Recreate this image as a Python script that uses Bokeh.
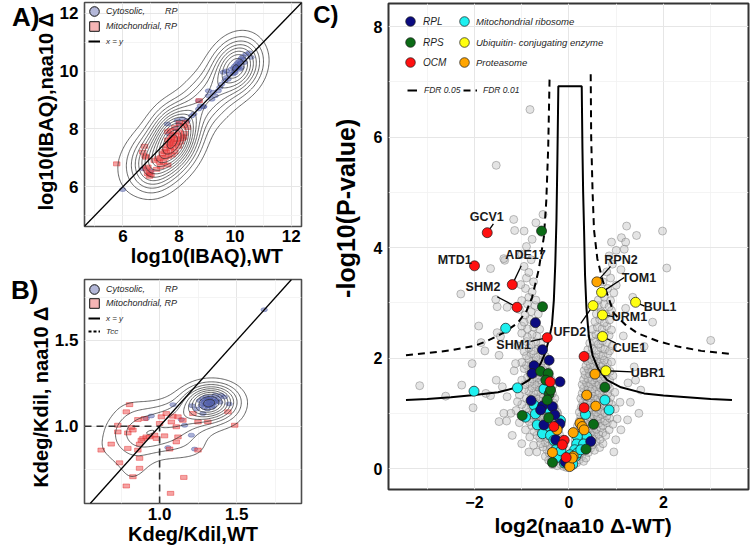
import numpy as np
from bokeh.plotting import figure
from bokeh.models import (Range1d, FixedTicker, Legend, LegendItem, LinearAxis,
                          Slope, PrintfTickFormatter)
from bokeh.layouts import row, column
from bokeh.embed import file_html
from bokeh.resources import INLINE
from bokeh.core.properties import value

FONT = "Liberation Sans"

# ---------------- Panel A : log10(IBAQ) ----------------
a_cyto = [(5.99,5.90),(6.95,6.45),(7.00,6.55),(6.72,6.62),(7.59,8.17),(7.64,7.83),(7.88,8.00),
          (7.94,8.29),(8.00,8.17),(8.12,8.35),(8.29,8.29),(8.45,8.45),(8.53,8.52),(8.70,8.69),
          (8.76,8.80),(8.87,8.76),(8.70,8.98),(8.88,8.78),(9.05,9.15),(9.05,9.32),(9.17,9.03),
          (9.22,9.27),(9.29,9.15),(9.40,9.32),(9.46,9.44),(9.52,9.55),(9.58,9.96),(9.64,9.67),
          (9.69,9.78),(9.69,10.01),(9.75,9.72),(9.81,9.90),(9.87,10.07),(9.93,9.90),(9.99,10.01),
          (9.99,10.18),(10.05,10.24),(10.10,10.13),(10.10,10.30),(10.16,10.07),(10.16,10.36),
          (10.22,10.13),(10.22,10.44),(10.28,10.51),(10.33,10.30),(10.39,10.59),(10.51,10.64),
          (10.57,10.48),(10.05,10.10),(10.12,10.20),(10.20,10.28),(9.95,10.12),(10.30,10.40),(10.00,9.95)]
a_mito = [(5.78,6.79),(6.79,7.06),(6.83,6.62),(6.88,6.45),(6.95,6.36),(6.71,7.20),(6.77,7.40),
          (6.83,7.02),(6.89,6.68),(6.95,6.51),(7.00,6.41),(7.12,6.91),(7.24,6.97),(7.30,6.85),
          (7.36,7.02),(7.41,7.14),(7.47,7.22),(7.53,7.31),(7.59,7.42),(7.65,7.50),(7.70,7.60),
          (7.75,7.45),(7.80,7.55),(7.85,7.65),(7.72,7.70),(7.68,7.38),(7.82,7.35),(7.90,7.50),
          (7.60,7.62),(7.78,7.78),(7.88,7.80),(7.95,7.62),(7.55,7.20),(7.70,7.25),(7.85,7.20),
          (7.98,7.40),(8.05,7.55),(7.62,7.05),(7.50,7.00),(7.75,7.10),(7.45,6.85),(7.60,6.75),
          (7.35,6.70),(7.20,6.60),(7.70,7.95),(7.85,8.05),(8.00,7.90),(8.10,7.75),(8.20,7.85),
          (8.30,8.05),(7.60,7.90),(8.02,8.20),(8.17,8.11),(8.23,8.23),(8.17,7.71),(8.12,7.66),(8.72,8.98)]
a_ticks = [6, 8, 10, 12]
a_minor = [5, 7, 9, 11]

# ---------------- Panel B : Kdeg/Kdil ----------------
b_cyto = [(1.28,1.13),(1.30,1.15),(1.31,1.12),(1.32,1.14),(1.33,1.15),(1.34,1.13),(1.35,1.16),
          (1.36,1.14),(1.29,1.14),(1.31,1.16),(1.33,1.13),(1.34,1.15),(1.32,1.12),(1.30,1.13),
          (1.37,1.15),(1.38,1.16),(1.35,1.12),(1.27,1.12),(1.33,1.17),(1.36,1.18),(1.29,1.11),
          (1.31,1.10),(1.34,1.11),(1.39,1.14),(1.26,1.15),(1.32,1.16),(1.35,1.14),(1.30,1.17),
          (1.28,1.16),(1.40,1.18),(0.946,1.060),(0.913,1.045),(1.087,1.126),(1.141,1.039),
          (1.162,1.006),(1.206,0.948),(1.054,0.876),(1.227,0.867),(1.281,1.074),(1.678,1.679),
          (1.24,1.10),(1.21,1.12),(1.42,1.17),(1.45,1.13)]
b_mito = [(0.805,1.126),(0.784,1.084),(0.859,1.039),(0.903,1.045),(0.729,1.006),(0.729,0.967),
          (0.794,0.961),(0.816,0.993),(0.827,0.978),(0.892,0.929),(0.881,0.919),(0.913,0.938),
          (0.935,0.938),(0.968,0.948),(0.979,0.929),(0.870,0.896),(0.859,0.861),(0.794,0.871),
          (0.686,0.896),(0.621,0.861),(0.740,0.787),(0.870,0.813),(0.870,0.755),(0.827,0.706),
          (0.784,0.652),(1.000,1.016),(1.011,1.055),(1.043,1.074),(1.076,1.025),(1.086,1.059),
          (1.119,1.055),(1.151,1.035),(1.108,0.997),(1.119,0.938),(1.108,0.909),(1.065,0.867),
          (1.249,0.861),(1.249,1.025),(1.313,1.025),(1.216,1.074),(1.443,1.084),(1.487,1.006),
          (1.157,0.702),(1.071,0.609),(1.032,0.944)]
b_tcc = 1.0
b_ticks = [1.0, 1.5]
b_minor = [0.75, 1.25, 1.75]

# ---------------- Panel C : volcano ----------------
c_grey = [
 (-0.05,0.02),(-0.12,0.04),(-0.18,0.08),(-0.25,0.05),(-0.08,0.11),(-0.32,0.12),(-0.15,0.16),(-0.22,0.19),
 (-0.38,0.20),(-0.28,0.23),(-0.10,0.21),(-0.43,0.15),(0.04,0.03),(0.10,0.06),(0.16,0.10),(0.08,0.14),
 (0.22,0.16),(0.13,0.20),(0.27,0.22),(0.19,0.24),(0.31,0.13),(0.02,0.09),(-0.02,0.15),(0.06,0.22),
 (-0.35,0.07),(0.36,0.19),(-0.50,0.22),
 (-0.14,0.27),(-0.24,0.29),(-0.33,0.31),(-0.42,0.28),(-0.19,0.34),(-0.29,0.37),(-0.38,0.36),(-0.47,0.34),
 (-0.55,0.39),(-0.12,0.40),(-0.22,0.42),(-0.31,0.45),(-0.41,0.43),(-0.50,0.47),(-0.60,0.45),(-0.17,0.48),
 (-0.36,0.49),(-0.26,0.50),(-0.68,0.30),(-0.75,0.42),
 (0.09,0.27),(0.17,0.30),(0.25,0.28),(0.33,0.32),(0.41,0.29),(0.12,0.35),(0.21,0.38),(0.29,0.36),
 (0.38,0.40),(0.46,0.37),(0.54,0.33),(0.15,0.43),(0.24,0.46),(0.33,0.44),(0.42,0.47),(0.50,0.43),
 (0.58,0.48),(0.20,0.50),(0.37,0.50),(0.65,0.38),(0.72,0.45),
 (-0.15,0.53),(-0.24,0.55),(-0.34,0.57),(-0.44,0.54),(-0.53,0.58),(-0.62,0.55),(-0.20,0.61),(-0.30,0.63),
 (-0.40,0.62),(-0.49,0.66),(-0.58,0.64),(-0.68,0.60),(-0.26,0.68),(-0.36,0.70),(-0.46,0.72),(-0.55,0.70),
 (-0.65,0.73),(-0.74,0.67),(-0.22,0.74),(-0.83,0.57),(-0.92,0.70),
 (0.13,0.52),(0.22,0.55),(0.31,0.54),(0.40,0.57),(0.49,0.55),(0.57,0.58),(0.66,0.53),(0.17,0.60),
 (0.27,0.63),(0.36,0.61),(0.45,0.64),(0.54,0.66),(0.63,0.62),(0.72,0.65),(0.20,0.68),(0.30,0.71),
 (0.39,0.69),(0.48,0.73),(0.58,0.71),(0.67,0.74),(0.78,0.60),(0.85,0.70),(0.24,0.74),
 (-0.20,0.77),(-0.30,0.79),(-0.40,0.78),(-0.50,0.80),(-0.60,0.77),(-0.70,0.81),(-0.79,0.78),(-0.25,0.85),
 (-0.35,0.87),(-0.45,0.84),(-0.55,0.88),(-0.65,0.86),(-0.75,0.89),(-0.84,0.85),(-0.29,0.93),(-0.39,0.95),
 (-0.49,0.92),(-0.59,0.96),(-0.69,0.94),(-0.80,0.97),(-0.93,0.92),(-1.05,0.83),(-0.24,0.99),
 (0.18,0.77),(0.27,0.80),(0.36,0.78),(0.45,0.81),(0.54,0.79),(0.63,0.82),(0.72,0.78),(0.81,0.83),
 (0.22,0.86),(0.31,0.88),(0.40,0.85),(0.49,0.89),(0.58,0.87),(0.67,0.90),(0.76,0.86),(0.86,0.91),
 (0.25,0.94),(0.34,0.97),(0.43,0.93),(0.52,0.96),(0.61,0.94),(0.70,0.98),(0.80,0.95),(0.93,0.80),(1.02,0.90),
 (-0.25,1.02),(-0.35,1.04),(-0.45,1.01),(-0.55,1.05),(-0.65,1.03),(-0.75,1.06),(-0.85,1.02),(-0.30,1.10),
 (-0.40,1.12),(-0.50,1.09),(-0.60,1.13),(-0.70,1.11),(-0.80,1.14),(-0.90,1.09),(-0.33,1.19),(-0.43,1.21),
 (-0.53,1.18),(-0.63,1.22),(-0.73,1.20),(-0.83,1.23),(-1.00,1.16),(-1.12,1.05),
 (0.22,1.02),(0.31,1.05),(0.40,1.03),(0.49,1.06),(0.58,1.02),(0.67,1.05),(0.76,1.01),(0.86,1.04),
 (0.26,1.11),(0.35,1.13),(0.44,1.10),(0.53,1.14),(0.62,1.12),(0.71,1.15),(0.80,1.11),(0.90,1.16),
 (0.29,1.20),(0.38,1.22),(0.47,1.19),(0.56,1.23),(0.65,1.21),(0.74,1.24),(0.84,1.20),(0.98,1.08),(1.08,1.20),
 (-0.30,1.27),(-0.40,1.29),(-0.50,1.26),(-0.60,1.30),(-0.70,1.28),(-0.80,1.31),(-0.90,1.27),(-0.35,1.36),
 (-0.45,1.38),(-0.55,1.35),(-0.65,1.39),(-0.75,1.37),(-0.85,1.40),(-0.38,1.45),(-0.48,1.47),(-0.58,1.44),
 (-0.68,1.48),(-0.78,1.46),(-0.95,1.43),(-1.05,1.33),
 (0.25,1.27),(0.34,1.30),(0.43,1.28),(0.52,1.31),(0.61,1.27),(0.70,1.30),(0.79,1.26),(0.88,1.29),
 (0.28,1.36),(0.37,1.38),(0.46,1.35),(0.55,1.39),(0.64,1.37),(0.73,1.40),(0.82,1.36),(0.31,1.45),
 (0.40,1.47),(0.49,1.44),(0.58,1.48),(0.67,1.46),(0.76,1.49),(0.86,1.45),(0.97,1.38),
 (-0.33,1.52),(-0.43,1.54),(-0.53,1.51),(-0.63,1.55),(-0.73,1.53),(-0.83,1.56),(-0.93,1.52),(-0.38,1.61),
 (-0.48,1.63),(-0.58,1.60),(-0.68,1.64),(-0.78,1.62),(-0.88,1.65),(-0.42,1.70),(-0.52,1.72),(-0.62,1.69),
 (-0.72,1.73),(-0.82,1.71),(-1.00,1.60),
 (0.28,1.52),(0.37,1.55),(0.46,1.53),(0.55,1.56),(0.64,1.52),(0.73,1.55),(0.82,1.51),(0.31,1.61),
 (0.40,1.63),(0.49,1.60),(0.58,1.64),(0.67,1.62),(0.76,1.65),(0.86,1.60),(0.34,1.70),(0.43,1.72),
 (0.52,1.69),(0.61,1.73),(0.70,1.71),(0.80,1.74),(0.93,1.68),
 (-0.45,1.77),(-0.55,1.79),(-0.65,1.76),(-0.75,1.80),(-0.85,1.78),(-0.95,1.81),(-0.50,1.86),(-0.60,1.88),
 (-0.70,1.85),(-0.80,1.89),(-0.90,1.87),(-0.55,1.95),(-0.65,1.97),(-0.75,1.94),(-0.85,1.98),(-1.00,1.92),
 (0.32,1.77),(0.41,1.80),(0.50,1.78),(0.59,1.81),(0.68,1.77),(0.77,1.80),(0.87,1.76),(0.36,1.86),
 (0.45,1.88),(0.54,1.85),(0.63,1.89),(0.72,1.87),(0.82,1.90),(0.39,1.95),(0.48,1.97),(0.57,1.94),
 (0.66,1.98),(0.75,1.96),(0.90,1.93),
 (-0.50,2.03),(-0.60,2.06),(-0.70,2.02),(-0.80,2.08),(-0.90,2.04),(-0.55,2.14),(-0.65,2.17),(-0.75,2.13),
 (-0.85,2.18),(-0.95,2.12),(-0.60,2.26),(-0.70,2.29),(-0.80,2.24),(-0.90,2.30),(-0.68,2.40),(-0.78,2.43),
 (-0.88,2.38),(-1.00,2.45),(-1.08,2.22),
 (0.36,2.03),(0.45,2.07),(0.54,2.02),(0.63,2.06),(0.72,2.04),(0.82,2.08),(0.40,2.15),(0.49,2.18),
 (0.58,2.14),(0.67,2.19),(0.76,2.16),(0.86,2.13),(0.44,2.27),(0.53,2.30),(0.62,2.25),(0.71,2.31),
 (0.80,2.28),(0.92,2.22),(0.48,2.40),(0.57,2.43),(0.66,2.38),(0.75,2.44),(0.85,2.41),
 (-0.62,2.52),(-0.75,2.56),(-0.88,2.53),(-1.00,2.58),(-0.70,2.66),(-0.83,2.70),(-0.95,2.65),(-0.65,2.80),
 (-0.80,2.84),(-0.93,2.78),(-1.05,2.88),(-0.72,2.95),(-0.88,2.98),
 (0.50,2.52),(0.60,2.56),(0.70,2.53),(0.80,2.58),(0.90,2.51),(0.55,2.66),(0.65,2.70),(0.75,2.64),
 (0.86,2.69),(0.58,2.80),(0.68,2.84),(0.78,2.79),(0.90,2.86),(0.62,2.95),(0.74,2.98),(0.85,2.93),
 (-0.70,3.05),(-0.85,3.10),(-1.00,3.04),(-0.78,3.20),(-0.92,3.26),(-0.75,3.38),(-0.90,3.45),(-1.02,3.33),
 (0.62,3.05),(0.75,3.10),(0.88,3.04),(0.68,3.20),(0.82,3.26),(0.95,3.18),(0.72,3.38),(0.88,3.45),(1.00,3.32),
 (-0.85,3.55),(-0.95,3.66),(-0.80,3.78),(-1.00,3.88),(-0.90,4.02),(-0.78,4.15),(-0.95,4.30),
 (0.80,3.56),(0.92,3.70),(0.85,3.85),(1.00,3.95),(0.90,4.10),
 (-1.54,5.49),(-0.825,6.50),(-1.17,4.51),(-1.15,4.31),(-1.36,3.77),(-1.38,3.80),(-1.66,3.62),(-2.29,3.16),
 (-1.52,2.93),(-1.31,2.92),(-1.91,2.58),(-1.52,2.46),(-1.45,2.39),(-2.05,1.90),(-1.55,3.06),(-1.86,2.28),
 (-1.78,2.13),(-1.48,2.05),(-3.16,1.50),(-2.27,1.51),(-2.61,1.31),(-1.76,1.36),(-1.66,1.32),(-1.54,1.60),
 (-2.03,1.10),(-1.48,0.85),(-1.32,0.86),(-1.16,1.77),(-1.13,1.90),(-1.23,1.00),(-1.41,1.48),(-1.31,1.30),
 (-1.38,1.00),(-1.09,1.21),(-1.20,0.60),(-1.00,0.45),(-0.85,0.30),(1.22,4.39),(1.98,4.30),(1.11,4.18),
 (1.20,4.10),(1.43,4.22),(1.17,3.97),(2.07,3.63),(3.00,2.32),(1.77,2.65),(1.59,2.21),(1.38,1.84),
 (1.41,1.60),(1.52,1.42),(1.48,1.00),(1.24,0.88),(0.99,0.52),(1.10,0.70),(1.30,1.20),(1.20,2.90),
 (1.35,3.10),(1.15,2.40),(1.25,1.55),(0.95,0.30),(1.10,3.60),(-0.55,4.60),(-0.70,4.45)]

c_rpl = [(-0.71,2.64),(-0.56,2.15),(-0.42,1.96),(-0.74,1.86),(-0.78,1.72),(-0.19,1.57),(-0.80,1.23),
         (-0.56,1.13),(-0.35,1.12),(-0.60,1.06),(-0.30,0.97),(-0.53,0.79),(-0.26,0.77),(-0.19,0.81),
         (-0.28,0.52),(-0.035,0.096),(0.46,0.49),(-0.08,0.12)]
c_rps = [(-0.58,4.30),(-0.56,2.93),(-0.60,1.76),(-0.44,1.72),(-0.49,1.60),(-0.42,1.35),(-0.39,1.42),
         (-0.46,1.24),(-0.99,0.96),(-0.43,0.92),(-0.35,0.11),(0.76,1.47),(0.52,0.80),(0.36,0.35)]
c_ocm = [(-0.40,1.57),(-0.32,0.76),(-0.10,0.51),(-0.14,0.43),(-0.06,0.20),(0.32,2.03),(0.32,1.10)]
c_mito = [(-1.34,2.54),(-2.01,1.40),(-1.09,1.46),(-0.53,1.44),(-0.74,1.15),(-0.71,0.99),(-0.46,1.09),
          (-0.92,0.93),(-0.18,0.87),(-0.46,0.77),(-0.67,0.79),(-0.56,0.63),(-0.39,0.60),(-0.32,0.51),
          (-0.21,0.43),(-0.28,0.34),(-0.14,0.25),(-0.23,0.205),(0.036,0.156),(0.14,0.22),(0.76,1.24),
          (0.35,0.98),(0.85,1.06),(0.375,0.58),(0.177,0.58),(0.163,0.445),(0.31,0.445),(0.12,0.34),
          (0.177,0.28),(0.25,0.34),(-0.10,0.10),(0.08,0.08),(-0.17,0.32),(0.02,0.25)]
c_ubiq = []
c_prot = [(0.55,1.71),(0.375,1.33),(0.566,1.13),(0.234,0.82),(0.28,0.76),(0.32,0.70),(0.09,0.65),
          (0.09,0.22),(-0.25,0.70),(-0.35,0.29),(0.015,0.035),(0.07,0.19)]

lab_name = ["GCV1", "MTD1", "ADE17", "SHM2", "SHM1", "UFD2", "RPN2", "TOM1", "BUL1", "URM1", "CUE1", "UBR1"]
lab_cat = ["OCM", "OCM", "OCM", "OCM", "OCM", "Ubiquitin", "Proteasome", "Ubiquitin", "Ubiquitin",
           "Ubiquitin", "Ubiquitin", "Ubiquitin"]
lab_x = [-1.73, -2.00, -1.20, -1.10, -0.46, 0.51, 0.59, 0.69, 1.41, 0.71, 0.71, 0.78]
lab_y = [4.27, 3.67, 3.33, 2.92, 2.37, 2.95, 3.38, 3.19, 3.01, 2.78, 2.39, 1.77]
lab_tx = [-1.74, -2.42, -0.92, -1.82, -1.17, 0.02, 1.10, 1.48, 1.93, 1.28, 1.28, 1.67]
lab_ty = [4.55, 3.77, 3.87, 3.28, 2.24, 2.47, 3.77, 3.45, 2.93, 2.74, 2.18, 1.73]
lab_lx = [-1.60, -2.00, -1.01, -1.52, -0.81, 0.25, 0.88, 1.17, 1.60, 0.95, 0.99, 1.34]
lab_ly = [4.43, 3.67, 3.67, 3.11, 2.30, 2.63, 3.66, 3.46, 2.94, 2.75, 2.27, 1.75]

fdr05_l_x = [-3.45, -3.0, -2.5, -2.0, -1.5, -1.1, -0.85, -0.7, -0.6, -0.5, -0.42, -0.36, -0.32, -0.29, -0.265, -0.245, -0.225]
fdr05_l_y = [1.24, 1.26, 1.29, 1.33, 1.38, 1.47, 1.60, 1.75, 1.90, 2.10, 2.35, 2.60, 3.05, 3.70, 4.50, 5.60, 6.92]
fdr05_r_x = [0.27, 0.285, 0.30, 0.32, 0.34, 0.37, 0.42, 0.50, 0.62, 0.81, 1.1, 1.59, 2.0, 2.5, 3.0, 3.45]
fdr05_r_y = [6.92, 5.80, 5.00, 4.30, 3.50, 2.90, 2.40, 2.05, 1.80, 1.60, 1.47, 1.36, 1.32, 1.29, 1.26, 1.24]
fdr01_l_x = [-3.45, -3.0, -2.5, -2.0, -1.73, -1.4, -1.09, -0.9, -0.78, -0.64, -0.53, -0.48, -0.44, -0.41]
fdr01_l_y = [2.05, 2.09, 2.14, 2.22, 2.31, 2.45, 2.63, 2.85, 3.10, 3.60, 4.20, 4.85, 5.80, 7.09]
fdr01_r_x = [0.46, 0.47, 0.50, 0.53, 0.60, 0.71, 0.95, 1.2, 1.45, 1.9, 2.3, 2.8, 3.45]
fdr01_r_y = [7.14, 6.00, 5.00, 4.32, 3.80, 3.41, 2.81, 2.60, 2.45, 2.30, 2.21, 2.13, 2.07]
c_xticks = [-2, 0, 2]
c_xminor = [-3, -1, 1, 3]
c_yticks = [0, 2, 4, 6, 8]
c_yminor = [1, 3, 5, 7]

CAT_COLORS = {"RPL": "#0a0a80", "RPS": "#0b6b16", "OCM": "#ff1010", "Mito": "#1ef0f0",
              "Ubiquitin": "#ffff10", "Proteasome": "#ffa500"}
NB = "\u00a0"
NAN = np.array([np.nan])


def xy(pairs):
    a = np.array(pairs, dtype=float).reshape(-1, 2)
    return a[:, 0], a[:, 1]


def kde(xs, ys, xr, yr, n=170):
    xs = np.asarray(xs); ys = np.asarray(ys)

    def bw(v):
        q75, q25 = np.percentile(v, [75, 25])
        return 1.06 * min(np.std(v, ddof=1), (q75 - q25) / 1.34) * len(v) ** (-0.2)
    hx, hy = bw(xs), bw(ys)
    gx = np.linspace(xr[0], xr[1], n)
    gy = np.linspace(yr[0], yr[1], n)
    X, Y = np.meshgrid(gx, gy)
    Z = np.zeros_like(X)
    for xi, yi in zip(xs, ys):
        Z += np.exp(-0.5 * (((X - xi) / hx) ** 2 + ((Y - yi) / hy) ** 2))
    Z /= len(xs) * 2 * np.pi * hx * hy
    return gx, gy, Z


def levels(Z, n):
    step = Z.max() / (n + 0.5)
    return list(step * np.arange(1, n + 1))


def base_fig(w, h, xr, yr, left, right, top, bottom):
    p = figure(width=w, height=h, x_range=Range1d(*xr), y_range=Range1d(*yr),
               output_backend="svg", toolbar_location=None,
               min_border_left=left, min_border_right=right,
               min_border_top=top, min_border_bottom=bottom)
    p.background_fill_color = "white"
    p.border_fill_color = "white"
    p.outline_line_color = "#4d4d4d"
    p.outline_line_width = 1.6
    return p


def style_axes(p, xt, xm, yt, ym, tick_px, xlab, ylab, xlab_px, ylab_px,
               x_std, y_std, xl_std, yl_std, fmt=None):
    p.xaxis.ticker = FixedTicker(ticks=xt, minor_ticks=xm)
    p.yaxis.ticker = FixedTicker(ticks=yt, minor_ticks=ym)
    p.xgrid.ticker = FixedTicker(ticks=xt, minor_ticks=xm)
    p.ygrid.ticker = FixedTicker(ticks=yt, minor_ticks=ym)
    for g in (p.xgrid[0], p.ygrid[0]):
        g.grid_line_color = "#e6e6e6"
        g.grid_line_width = 1
        g.minor_grid_line_color = "#f1f1f1"
        g.minor_grid_line_width = 0.8
    p.xaxis.axis_label = xlab
    p.yaxis.axis_label = ylab
    for ax, lpx, std, lstd in ((p.xaxis[0], xlab_px, x_std, xl_std), (p.yaxis[0], ylab_px, y_std, yl_std)):
        ax.axis_line_color = None
        ax.major_tick_line_color = None
        ax.minor_tick_line_color = None
        ax.major_tick_out = 0
        ax.major_tick_in = 0
        ax.minor_tick_out = 0
        ax.major_label_text_font = FONT
        ax.major_label_text_font_style = "bold"
        ax.major_label_text_font_size = f"{tick_px}px"
        ax.major_label_text_color = "black"
        ax.major_label_standoff = std
        ax.axis_label_text_font = FONT
        ax.axis_label_text_font_style = "bold"
        ax.axis_label_text_font_size = f"{lpx}px"
        ax.axis_label_text_color = "black"
        ax.axis_label_standoff = lstd
        if fmt:
            ax.formatter = PrintfTickFormatter(format=fmt)


def key(p, label, rend, left, top, frame_h, gw, gh, font_px, standoff):
    """One legend entry; left/top are pixel offsets of the key box from the frame's top-left."""
    lg = Legend(items=[LegendItem(label=label, renderers=[rend])], location=(left, frame_h - top - gh),
                orientation="vertical", glyph_width=gw, glyph_height=gh, spacing=0, padding=0, margin=0,
                label_height=4, label_width=4, label_standoff=standoff,
                label_text_font=FONT, label_text_font_style="italic",
                label_text_font_size=f"{font_px}px", label_text_color="#1f1f1f",
                background_fill_alpha=0, border_line_color=None)
    p.add_layout(lg)


def panel_tag(p, text, pos, size, standoff):
    """Panel letter shown as the single label of an extra, line-less left axis (pos: 0..1 of frame height)."""
    p.extra_y_ranges = {"tag": Range1d(0, 1)}
    ax = LinearAxis(y_range_name="tag", ticker=FixedTicker(ticks=[pos], minor_ticks=[]),
                    major_label_overrides={pos: text})
    ax.axis_line_color = None
    ax.major_tick_line_color = None
    ax.minor_tick_line_color = None
    ax.major_tick_out = 0
    ax.major_tick_in = 0
    ax.minor_tick_out = 0
    ax.minor_tick_in = 0
    ax.axis_label_standoff = 0
    ax.major_label_standoff = standoff
    ax.major_label_text_font = FONT
    ax.major_label_text_font_style = "bold"
    ax.major_label_text_font_size = f"{size}px"
    ax.major_label_text_color = "black"
    p.add_layout(ax, "left")


def scatter_ab(p, cyto, mito):
    cx, cy = xy(cyto)
    mx, my = xy(mito)
    p.ellipse(x=cx, y=cy, width=6.5, height=4, width_units="screen", height_units="screen",
              fill_color="#5361ad", fill_alpha=0.5, line_color="#4a57a0", line_alpha=0.5, line_width=0.8)
    p.rect(x=mx, y=my, width=6.5, height=4, width_units="screen", height_units="screen",
           fill_color="#ee4848", fill_alpha=0.5, line_color="#e02a2a", line_alpha=0.55, line_width=0.8)
    return np.concatenate([cx, mx]), np.concatenate([cy, my])


def legend_renderers(p):
    rc = p.scatter(x=NAN, y=NAN, marker="circle", size=10, fill_color="#b3b7d8",
                   line_color="#111111", line_width=1)
    rs = p.scatter(x=NAN, y=NAN, marker="square", size=10, fill_color="#f6b5b5",
                   line_color="#111111", line_width=1)
    rl = p.line(x=NAN, y=NAN, line_color="black", line_width=2)
    return rc, rs, rl


# ================= Figure A =================
A_XR, A_YR = (4.63, 12.37), (4.62, 12.38)
A_FH = 224
pa = base_fig(306, 270, A_XR, A_YR, 84, 3, 2, 44)
ax_all, ay_all = scatter_ab(pa, a_cyto, a_mito)
gx, gy, Z = kde(ax_all, ay_all, A_XR, A_YR)
pa.contour(gx, gy, Z, levels=levels(Z, 13), line_color="#2a2a2a", line_width=0.8, line_alpha=0.9)
pa.add_layout(Slope(gradient=1, y_intercept=0, line_color="black", line_width=1.3))
style_axes(pa, a_ticks, a_minor, a_ticks, a_minor, 17, NB * 5 + "log10(IBAQ),WT",
           NB + "log10(IBAQ),naa10 Δ", 20, 20, 3, 6, 0, 0)
rc, rs, rl = legend_renderers(pa)
key(pa, "Cytosolic," + NB * 8 + "RP", rc, -2, -3, A_FH, 24, 24, 9, 0)
key(pa, "Mitochondrial, RP", rs, -2, 12, A_FH, 24, 24, 9, 0)
key(pa, "x = y", rl, 4, 33, A_FH, 12, 12, 8, 6)
panel_tag(pa, "A)", 0.935, 26, -8)

# ================= Figure B =================
B_XR, B_YR = (0.513, 1.92), (0.55, 1.855)
B_FH = 224
pb = base_fig(306, 280, B_XR, B_YR, 84, 5, 9, 47)
bx_all, by_all = scatter_ab(pb, b_cyto, b_mito)
gx, gy, Z = kde(bx_all, by_all, B_XR, B_YR)
pb.contour(gx, gy, Z, levels=levels(Z, 10), line_color="#2a2a2a", line_width=0.8, line_alpha=0.9)
pb.add_layout(Slope(gradient=1, y_intercept=0, line_color="black", line_width=1.3))
r_tcc = pb.segment(x0=[B_XR[0], b_tcc], y0=[b_tcc, B_YR[0]], x1=[b_tcc, b_tcc], y1=[b_tcc, b_tcc],
                   line_color="#333333", line_width=1.6, line_dash="7 5")
style_axes(pb, b_ticks, b_minor, b_ticks, b_minor, 17, "Kdeg/Kdil,WT", "Kdeg/Kdil, naa10 Δ" + NB * 2,
           20, 20, 4, 6, 0, 0, fmt="%.1f")
rc, rs, rl = legend_renderers(pb)
rd = pb.line(x=NAN, y=NAN, line_color="black", line_width=2, line_dash="3 2")
key(pb, "Cytosolic," + NB * 8 + "RP", rc, -2, -2, B_FH, 24, 24, 9, 0)
key(pb, "Mitochondrial, RP", rs, -2, 12, B_FH, 24, 24, 9, 0)
key(pb, "x = y", rl, 4, 33, B_FH, 12, 12, 8, 6)
key(pb, "Tcc", rd, 4, 46, B_FH, 12, 12, 8, 6)
panel_tag(pb, "B)", 0.995, 26, -12)

# ================= Figure C =================
C_XR, C_YR = (-3.82, 3.80), (-0.38, 8.42)
C_FH = 486
pc = base_fig(444, 550, C_XR, C_YR, 82, 2, 3, 61)
pc.outline_line_color = "#333333"
pc.outline_line_width = 2
style_axes(pc, c_xticks, c_xminor, c_yticks, c_yminor, 16, NB * 5 + "log2(naa10 Δ-WT)",
           NB * 11 + "-log10(P-value)", 21, 25, 6, 6, 3, 11)

gxs, gys = xy(c_grey)
pc.scatter(x=gxs, y=gys, size=8, fill_color="#c4c4c4", fill_alpha=0.45,
           line_color="#6e6e6e", line_alpha=0.55, line_width=0.8)

r_f05 = pc.line(x=fdr05_l_x + fdr05_r_x, y=fdr05_l_y + fdr05_r_y, line_color="black", line_width=2)
pc.line(x=fdr01_l_x, y=fdr01_l_y, line_color="black", line_width=2, line_dash="7 5")
r_f01 = pc.line(x=fdr01_r_x, y=fdr01_r_y, line_color="black", line_width=2, line_dash="7 5")

cats = {"RPL": list(c_rpl), "RPS": list(c_rps), "OCM": list(c_ocm), "Mito": list(c_mito),
        "Ubiquitin": list(c_ubiq), "Proteasome": list(c_prot)}
for cat, x_, y_ in zip(lab_cat, lab_x, lab_y):
    cats[cat].append((x_, y_))

pc.segment(x0=lab_x, y0=lab_y, x1=lab_lx, y1=lab_ly, line_color="black", line_width=1.3)
rends = {}
for cat in ["Mito", "RPL", "RPS", "Proteasome", "OCM", "Ubiquitin"]:
    cx_, cy_ = xy(cats[cat])
    rends[cat] = pc.scatter(x=cx_, y=cy_, size=10, fill_color=CAT_COLORS[cat],
                            line_color="#1a1a1a", line_width=0.7)
pc.text(x=lab_tx, y=lab_ty, text=lab_name, text_font=value(FONT), text_font_style="bold",
        text_font_size="12.5px", text_color="#1a1a1a", text_align="center", text_baseline="middle")

key(pc, "RPL", rends["RPL"], 10, 6, C_FH, 24, 24, 10, 1)
key(pc, "RPS", rends["RPS"], 10, 27, C_FH, 24, 24, 10, 1)
key(pc, "OCM", rends["OCM"], 10, 47, C_FH, 24, 24, 10, 1)
key(pc, "Mitochondrial ribosome", rends["Mito"], 64, 6, C_FH, 24, 24, 9.5, 0)
key(pc, "Ubiquitin- conjugating enzyme", rends["Ubiquitin"], 64, 27, C_FH, 24, 24, 9.5, 0)
key(pc, "Proteasome", rends["Proteasome"], 64, 47, C_FH, 24, 24, 9.5, 0)
key(pc, "FDR 0.05", r_f05, 19, 81, C_FH, 10, 12, 8.5, 7)
key(pc, "FDR 0.01", r_f01, 75, 81, C_FH, 14, 12, 8.5, 6)
panel_tag(pc, "C)", 0.977, 24, -10)

layout = row(column(pa, pb), pc)
open("out.html", "w").write(file_html(layout, INLINE))
